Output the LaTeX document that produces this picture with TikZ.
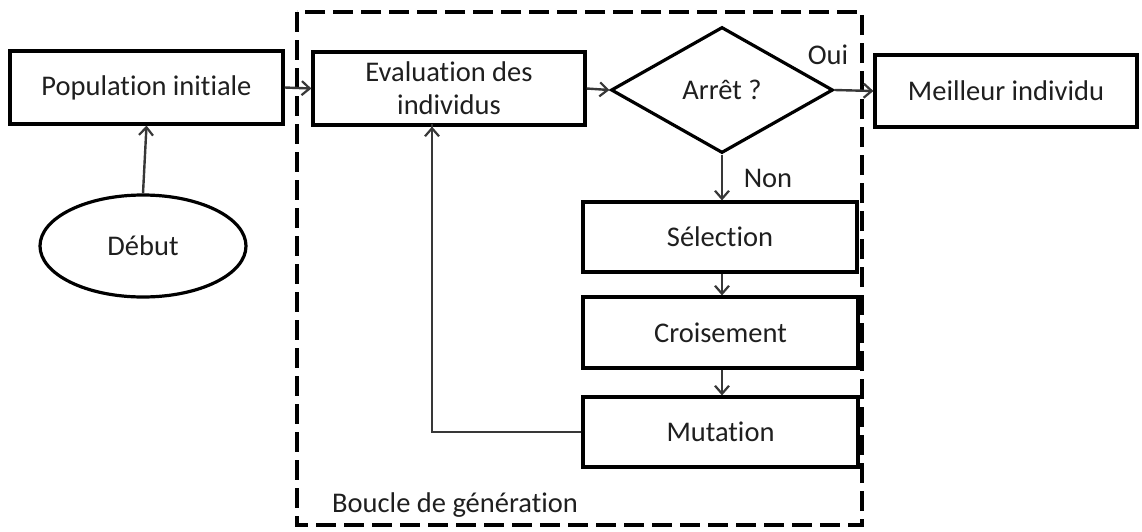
\documentclass[tikz,border=0pt]{standalone}
\usepackage{fontspec}
\setmainfont{Carlito}[RawFeature={-liga;-clig;-dlig}]
\usetikzlibrary{arrows.meta,shapes.geometric}
\begin{document}
\begin{tikzpicture}[x=1pt,y=-1pt,
  font=\fontsize{28.5}{30}\selectfont,
  box/.style={draw, line width=3.2pt, inner sep=0pt, text=black!88},
  flow/.style={draw=black!78, line width=2.4pt, -{Straight Barb[length=8pt,width=14pt,line width=2.2pt]}},
  lbl/.style={inner sep=0pt, text=black!88}]
\useasboundingbox (0,0) rectangle (1142,531);
\fill[white] (0,0) rectangle (1142,531);
% dashed frame of the generation loop
\draw[line width=3.2pt, dash pattern=on 20pt off 8pt] (297,12) rectangle (862,525);
\node[lbl, anchor=west] (loop) at (332,505) {Boucle de génération};
% nodes
\node[box, minimum width=273pt, minimum height=73pt] (pop) at (146.5,87.5) {Population initiale};
\node[box, ellipse, minimum width=206pt, minimum height=102pt] (start) at (143,246) {Début};
\node[box, minimum width=272pt, minimum height=73pt, align=center, font=\fontsize{28.5}{33}\selectfont] (eval) at (449,88.5) {Evaluation des\\individus};
\node[box, diamond, aspect=1.76, minimum width=222pt, minimum height=126pt] (stop) at (722,90) {Arrêt ?};
\node[box, minimum width=262pt, minimum height=72pt] (best) at (1006,91) {Meilleur individu};
\node[box, minimum width=274pt, minimum height=70pt] (sel) at (720,237) {Sélection};
\node[box, minimum width=275pt, minimum height=71pt] (cro) at (720.5,332.5) {Croisement};
\node[box, minimum width=275pt, minimum height=70pt] (mut) at (720.5,432) {Mutation};
\node[lbl] (oui) at (828,55) {Oui};
\node[lbl] (non) at (768,178) {Non};
% connectors
\draw[flow] (start.north) -- (pop.south);
\draw[flow] (pop.east) -- (eval.west);
\draw[flow] (eval.east) -- (stop.west);
\draw[flow] (stop.east) -- (best.west);
\draw[flow] (stop.south) -- (sel.north -| stop.south);
\draw[flow] (sel.south -| stop.south) -- (cro.north -| stop.south);
\draw[flow] (cro.south -| stop.south) -- (mut.north -| stop.south);
\draw[flow] (mut.west) -| (432,0 |- eval.south) -- (eval.south -| 432,0);
\end{tikzpicture}
\end{document}
